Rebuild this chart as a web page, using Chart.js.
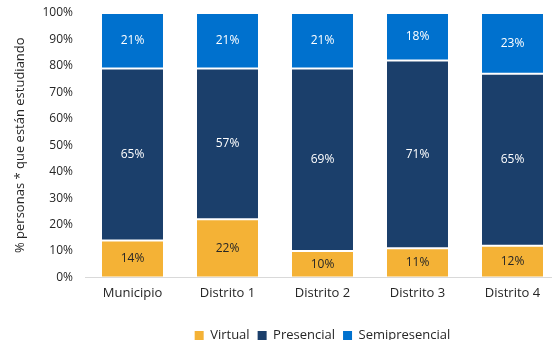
<!DOCTYPE html>
<html>
<head>
<meta charset="utf-8">
<script src="https://cdn.jsdelivr.net/npm/chart.js@4.4.1/dist/chart.umd.min.js"></script>
<style>
  html, body { margin: 0; padding: 0; background: #fff; overflow: hidden; }
  #wrap { width: 560px; height: 352px; position: relative; }
</style>
</head>
<body>
<div id="wrap"><canvas id="chart"></canvas></div>
<script>
// Distribution of people currently studying, by modality
const categories = ["Municipio", "Distrito 1", "Distrito 2", "Distrito 3", "Distrito 4"];
const virtual = [14, 22, 10, 11, 12];
const presencial = [65, 57, 69, 71, 65];
const semipresencial = [21, 21, 21, 18, 23];
const yTicks = [0, 10, 20, 30, 40, 50, 60, 70, 80, 90, 100];

const FONT = "'Open Sans', sans-serif";
const TEXT = "#262626";

// simple value labels centred in each stacked segment
const segmentLabels = {
  id: "segmentLabels",
  afterDatasetsDraw(chart) {
    const ctx = chart.ctx;
    ctx.save();
    ctx.font = "12px " + FONT;
    ctx.textAlign = "center";
    ctx.textBaseline = "middle";
    chart.data.datasets.forEach((ds, i) => {
      const meta = chart.getDatasetMeta(i);
      meta.data.forEach((bar, j) => {
        ctx.fillStyle = ds.labelColor;
        ctx.fillText(ds.data[j] + "%", bar.x, (bar.y + bar.base) / 2);
      });
    });
    ctx.restore();
  }
};

const ctx = document.getElementById("chart").getContext("2d");
new Chart(ctx, {
  type: "bar",
  data: {
    labels: categories,
    datasets: [
      { label: "Virtual", data: virtual, backgroundColor: "#F4B236", labelColor: "#262626" },
      { label: "Presencial", data: presencial, backgroundColor: "#1B3F6B", labelColor: "#ffffff" },
      { label: "Semipresencial", data: semipresencial, backgroundColor: "#0071CE", labelColor: "#ffffff" }
    ].map(d => Object.assign(d, {
      borderColor: "rgba(255,255,255,0.35)",
      borderWidth: 1,
      borderSkipped: false,
      categoryPercentage: 1,
      barPercentage: 0.663
    }))
  },
  options: {
    responsive: true,
    maintainAspectRatio: false,
    animation: false,
    layout: { padding: { top: 13, left: 12, right: 0, bottom: 0 } },
    plugins: {
      legend: {
        position: "bottom",
        fullSize: false,
        labels: {
          boxWidth: 9,
          boxHeight: 9,
          padding: 8,
          color: TEXT,
          font: { family: FONT, size: 13 },
          generateLabels(chart) {
            return chart.data.datasets.map((ds, i) => ({
              text: ds.label,
              fillStyle: ds.backgroundColor,
              strokeStyle: ds.backgroundColor,
              lineWidth: 0,
              fontColor: TEXT,
              datasetIndex: i
            }));
          }
        }
      },
      tooltip: { enabled: false }
    },
    scales: {
      x: {
        stacked: true,
        grid: { display: false, drawTicks: false },
        border: { display: true, color: "#d9d9d9", width: 1 },
        ticks: { color: TEXT, font: { family: FONT, size: 13 }, padding: 8 },
        afterFit(axis) { axis.height += 12; }
      },
      y: {
        stacked: true,
        min: 0,
        max: 100,
        afterBuildTicks(axis) {
          axis.ticks = yTicks.map(v => ({ value: v }));
        },
        afterFit(axis) {
          axis.width = 73;
          axis.paddingTop = 0;
          axis.paddingBottom = 0;
        },
        grid: { display: false, drawTicks: false },
        border: { display: false },
        ticks: {
          color: TEXT,
          font: { family: FONT, size: 12 },
          padding: 12,
          callback: v => v + "%"
        },
        title: {
          display: true,
          text: "% personas * que están estudiando",
          color: TEXT,
          font: { family: FONT, size: 13 },
          padding: { top: 0, bottom: 4 }
        }
      }
    }
  },
  plugins: [segmentLabels]
});
</script>
</body>
</html>
